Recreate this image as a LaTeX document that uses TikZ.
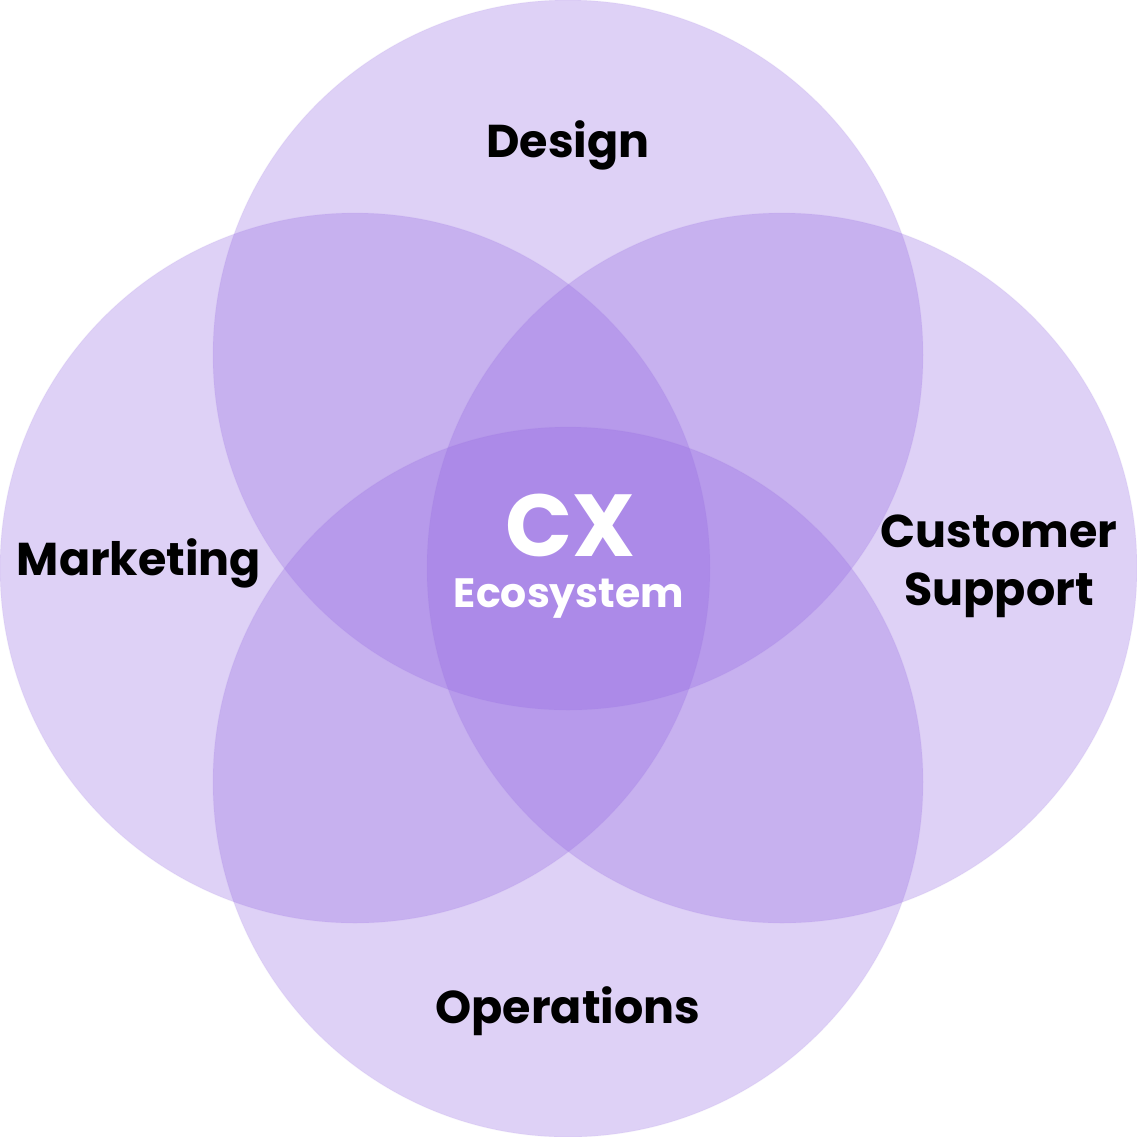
\documentclass[tikz,border=0pt]{standalone}
\usepackage{fontspec}
\setmainfont{Poppins}[BoldFont={* Bold}]
\definecolor{venn}{RGB}{148,104,226}
\begin{document}
\begin{tikzpicture}[x=0.5pt,y=-0.5pt,
  petal/.style={fill=venn,fill opacity=0.3,draw=venn,draw opacity=0.06,line width=0.6pt},
  lbl/.style={font=\bfseries\fontsize{23}{29}\selectfont,text=black,align=center,inner sep=0pt}]
\useasboundingbox (0,0) rectangle (1137,1137);
\coordinate (ct) at (568,355);
\coordinate (cl) at (355,568);
\coordinate (cr) at (782,568);
\coordinate (cb) at (568,782);
\fill[white] (0,0) rectangle (1137,1137);
\path[petal] (ct) circle[radius=177.5pt];
\path[petal] (cl) circle[radius=177.5pt];
\path[petal] (cr) circle[radius=177.5pt];
\path[petal] (cb) circle[radius=177.5pt];
\node[lbl] (design) at (568,145) {Design};
\node[lbl] (marketing) at (139,563) {Marketing};
\node[lbl] (cs) at (999,566) {Customer\\Support};
\node[lbl] (ops) at (568,1011) {Operations};
\node[font=\bfseries\fontsize{44}{48}\selectfont,text=white,inner sep=0pt,text depth=0pt,anchor=base] (cx) at (570,556) {CX};
\node[font=\bfseries\fontsize{20.5}{24}\selectfont,text=white,inner sep=0pt,anchor=base] (eco) at (569,607) {Ecosystem};
\end{tikzpicture}
\end{document}
